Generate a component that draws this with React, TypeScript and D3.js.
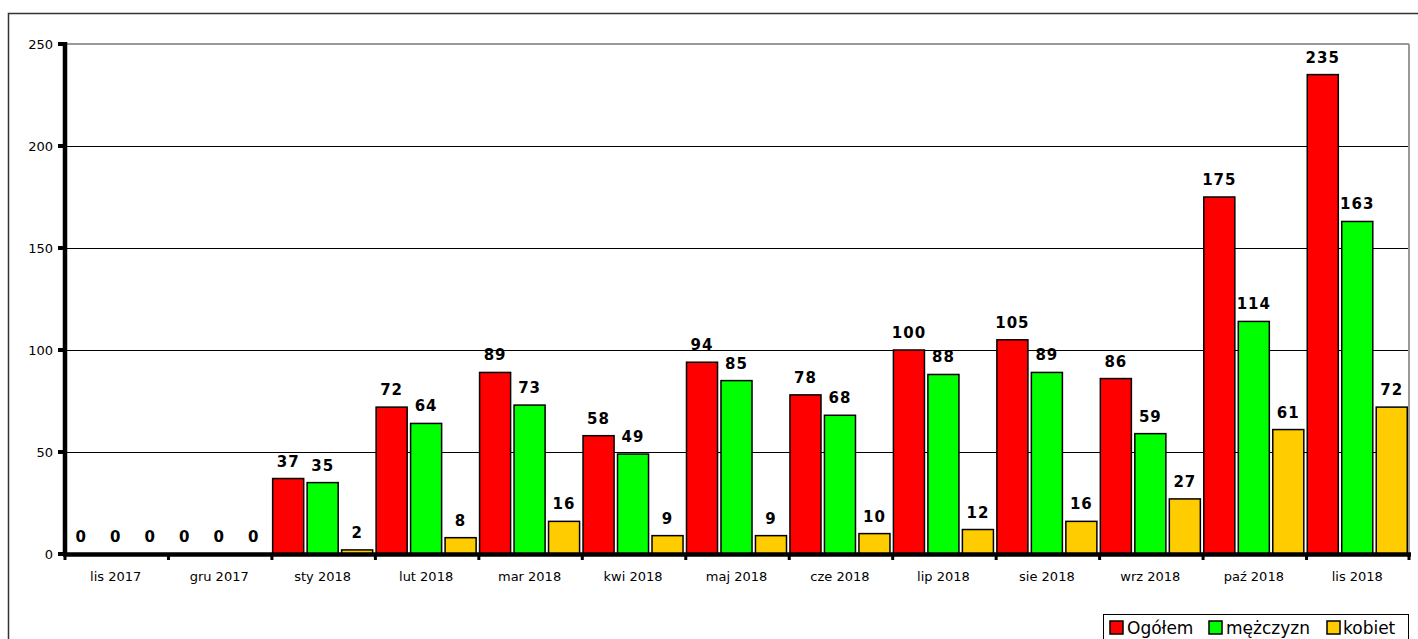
import * as d3 from "d3";
import { useMemo } from "react";

// months on the x axis
const months = [
  "lis 2017", "gru 2017", "sty 2018", "lut 2018", "mar 2018", "kwi 2018", "maj 2018",
  "cze 2018", "lip 2018", "sie 2018", "wrz 2018", "paź 2018", "lis 2018",
];
const seriesNames = ["Ogółem", "mężczyzn", "kobiet"];
const ogolem = [0, 0, 37, 72, 89, 58, 94, 78, 100, 105, 86, 175, 235];
const mezczyzn = [0, 0, 35, 64, 73, 49, 85, 68, 88, 89, 59, 114, 163];
const kobiet = [0, 0, 2, 8, 16, 9, 9, 10, 12, 16, 27, 61, 72];
const yTicks = [0, 50, 100, 150, 200, 250];

const colors = ["#FF0000", "#00FF00", "#FFCC00"];
const font = "'DejaVu Sans', Verdana, sans-serif";

const W = 1418;
const H = 639;
const left = 64;
const right = 1409;
const top = 44;
const bottom = 554;

const App = () => {
  const values = [ogolem, mezczyzn, kobiet];

  const x = useMemo(() => d3.scaleBand().domain(months).range([left, right]).padding(0), []);
  const x1 = useMemo(
    () => d3.scaleBand().domain(seriesNames).range([0, x.bandwidth()]).paddingInner(0.1).paddingOuter(0.05),
    [x]
  );
  const y = useMemo(() => d3.scaleLinear().domain([0, 250]).range([bottom, top]), []);

  const bars = months.map((m, i) => (
    <g key={m} transform={`translate(${x(m)},0)`}>
      {seriesNames.map((s, k) => {
        const v = values[k][i];
        const bx = x1(s)!;
        return (
          <g key={s}>
            {v > 0 && (
              <rect
                x={bx}
                y={y(v)}
                width={x1.bandwidth()}
                height={y(0) - y(v)}
                fill={colors[k]}
                stroke="#000"
                strokeWidth={1.5}
              />
            )}
            <text
              x={bx + x1.bandwidth() / 2}
              y={y(v) - 12}
              textAnchor="middle"
              fontFamily={font}
              fontWeight="bold"
              fontSize={15}
              letterSpacing={1}
            >
              {v}
            </text>
          </g>
        );
      })}
    </g>
  ));

  // legend item offsets
  const legendItems = [
    { x: 1110, tx: 1127 },
    { x: 1209, tx: 1226 },
    { x: 1327, tx: 1343 },
  ];

  return (
    <svg width={W} height={H} style={{ position: "absolute", left: 0, top: 0, background: "#fff" }}>
      <rect x={8.5} y={13.5} width={W} height={H} fill="none" stroke="#333" strokeWidth={1.5} />

      {/* grid */}
      {yTicks.filter((t) => t > 0 && t < 250).map((t) => (
        <line key={t} x1={left} x2={right} y1={y(t) + 0.5} y2={y(t) + 0.5} stroke="#000" strokeWidth={1} />
      ))}
      <line x1={left} x2={right} y1={y(250)} y2={y(250)} stroke="#999" strokeWidth={2} />
      <line x1={right} x2={right} y1={y(250)} y2={bottom} stroke="#999" strokeWidth={2} />

      {bars}

      {/* y axis */}
      <line x1={65} x2={65} y1={y(250) - 2} y2={bottom + 2} stroke="#000" strokeWidth={4.5} />
      {yTicks.map((t) => (
        <g key={t}>
          <line x1={58} x2={65} y1={y(t)} y2={y(t)} stroke="#000" strokeWidth={4} />
          <text x={53} y={y(t)} dy="0.35em" textAnchor="end" fontFamily={font} fontSize={13}>
            {t}
          </text>
        </g>
      ))}

      {/* x axis */}
      <line x1={63} x2={right + 2} y1={bottom + 0.5} y2={bottom + 0.5} stroke="#000" strokeWidth={4.5} />
      {months.map((m) => (
        <line key={m} x1={x(m)! + 1} x2={x(m)! + 1} y1={bottom} y2={bottom + 6} stroke="#000" strokeWidth={3} />
      ))}
      <line x1={right} x2={right} y1={bottom} y2={bottom + 6} stroke="#000" strokeWidth={3} />
      {months.map((m) => (
        <text
          key={m}
          x={x(m)! + x.bandwidth() / 2}
          y={581}
          textAnchor="middle"
          fontFamily={font}
          fontSize={13}
        >
          {m}
        </text>
      ))}

      {/* legend */}
      <rect x={1103.5} y={614.5} width={305} height={40} fill="#fff" stroke="#000" strokeWidth={1} />
      {seriesNames.map((s, k) => (
        <g key={s}>
          <rect x={legendItems[k].x} y={621} width={13} height={13} fill={colors[k]} stroke="#000" strokeWidth={1.5} />
          <text x={legendItems[k].tx} y={634} fontFamily={font} fontSize={17}>
            {s}
          </text>
        </g>
      ))}
    </svg>
  );
};

export default App;
